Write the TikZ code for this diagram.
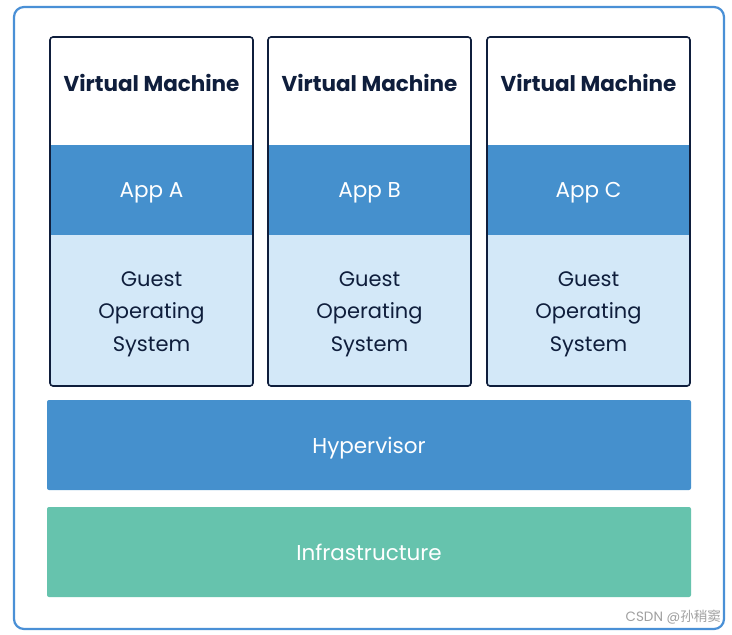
\documentclass[tikz,border=0pt]{standalone}
\usepackage{fontspec}
\setmainfont{Poppins}
\newfontfamily\cjk{Noto Sans CJK SC}
\definecolor{frameblue}{HTML}{4A90D6}
\definecolor{navy}{HTML}{0F1E3C}
\definecolor{appblue}{HTML}{4590CD}
\definecolor{osblue}{HTML}{D3E8F8}
\definecolor{infragreen}{HTML}{66C3AD}
\definecolor{wmgray}{HTML}{A0A0A0}
\tikzset{
  vmframe/.style={draw=navy, line width=1.6pt, rounded corners=3pt},
  vmtitle/.style={font=\bfseries\fontsize{21.5}{24}\selectfont, text=navy, anchor=base},
  applabel/.style={font=\fontsize{21.5}{24}\selectfont, text=white, anchor=base},
  oslabel/.style={font=\fontsize{21}{32.5}\selectfont, text=navy, align=center},
  layerlabel/.style={font=\fontsize{21.5}{24}\selectfont, text=white, anchor=base},
}
\begin{document}
\begin{tikzpicture}[x=1pt,y=1pt]
\useasboundingbox (0,0) rectangle (732,-635);
\fill[white] (0,0) rectangle (732,-635);
% outer frame
\draw[frameblue, line width=2.2pt, rounded corners=10pt] (14,-7) rectangle (724,-629);
% VMs
\foreach \x/\l/\n in {50/A/1, 268/B/2, 487/C/3}{
  \fill[white, rounded corners=3pt] (\x,-37) rectangle ++(203,-349);
  \fill[appblue] (\x-1,-145) rectangle ++(204,-90);
  \fill[osblue, rounded corners=3pt] (\x,-235) rectangle ++(203,-151);
  \fill[osblue] (\x,-235) rectangle ++(203,-10);
  \draw[vmframe] (\x,-37) rectangle ++(203,-349);
  \node[vmtitle] (vm\n) at (\x+101.5,-91) {Virtual Machine};
  \node[applabel] (app\n) at (\x+101.5,-197) {App \l};
  \node[oslabel] (os\n) at (\x+101.5,-314) {Guest\\Operating\\System};
}
% hypervisor & infrastructure
\fill[appblue, rounded corners=2pt] (47,-400) rectangle (691,-490);
\node[layerlabel] (hyp) at (369,-453) {Hypervisor};
\fill[infragreen, rounded corners=2pt] (47,-507) rectangle (691,-597);
\node[layerlabel] (infra) at (369,-560) {Infrastructure};
% watermark
\node[text=wmgray, font=\fontsize{13.5}{15}\selectfont, anchor=east, inner sep=0pt] (wm) at (721,-617) {CSDN @{\cjk 孙稍窦}};
\end{tikzpicture}
\end{document}
